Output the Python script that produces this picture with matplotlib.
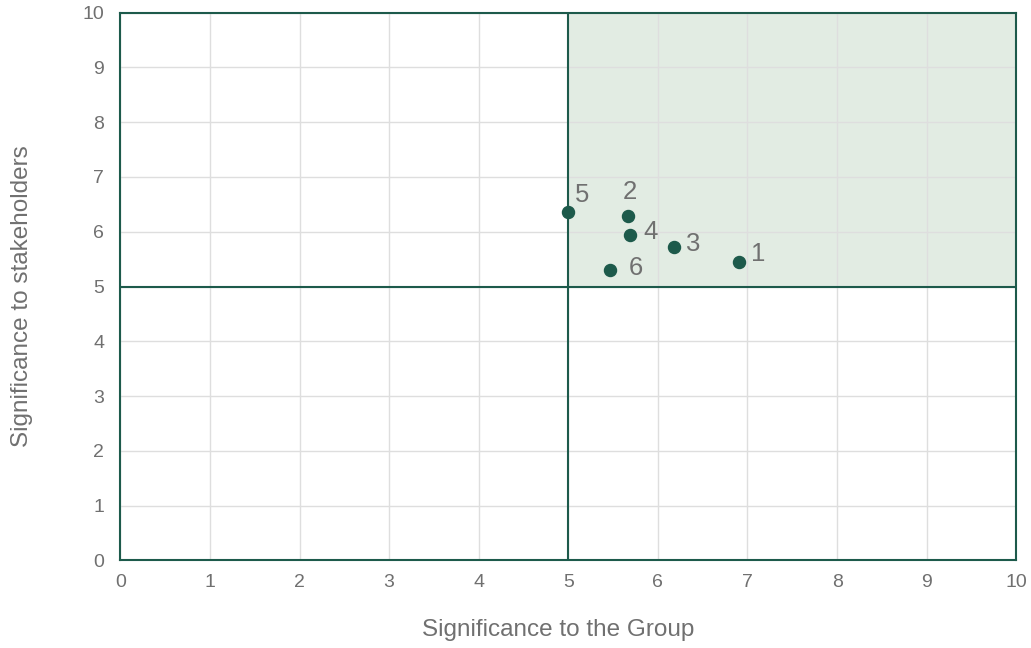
import numpy as np
import matplotlib.pyplot as plt
from matplotlib.patches import Rectangle

# topic numbers and their scores
topics = ["1", "2", "3", "4", "5", "6"]
group_score = [6.90, 5.67, 6.18, 5.69, 5.00, 5.46]
stakeholder_score = [5.44, 6.29, 5.72, 5.94, 6.36, 5.31]
# label offsets in pixels (dx, dy)
label_offset = [(12, 8), (-6, 24), (12, 3), (13, 3), (7, 17), (19, 2)]

dark = "#1d5a4b"
shade = "#e2ece3"
tick_col = "#707070"

plt.rcParams['font.family'] = ['Liberation Sans', 'DejaVu Sans']

fig = plt.figure(figsize=(10.31, 6.48), dpi=100)
ax = fig.add_axes([0.1167, 0.1353, 0.869, 0.8451])

ax.set_xlim(0, 10)
ax.set_ylim(0, 10)
ax.set_xticks(range(11))
ax.set_yticks(range(11))
ax.grid(True, color="#dedede", linewidth=1)
ax.set_axisbelow(True)

# upper right quadrant
ax.add_patch(Rectangle((5, 5), 5, 5, facecolor=shade, edgecolor="none", zorder=0.5))
ax.axvline(5, color=dark, linewidth=1.5, zorder=1)
ax.axhline(5, color=dark, linewidth=1.5, zorder=1)

for s in ax.spines.values():
    s.set_color(dark)
    s.set_linewidth(1.5)

ax.scatter(group_score, stakeholder_score, s=75, color=dark, zorder=3, clip_on=False)
for t, x, y, (dx, dy) in zip(topics, group_score, stakeholder_score, label_offset):
    ax.annotate(t, (x, y), xytext=(dx * 0.72, dy * 0.72), textcoords="offset points",
                ha="left", va="center", fontsize=18.5, color=tick_col)

ax.tick_params(length=0, labelsize=14, colors=tick_col)
ax.tick_params(axis="x", pad=10)
ax.tick_params(axis="y", pad=11.5)
ax.set_xlabel("Significance to the Group", fontsize=17.5, color=tick_col, labelpad=20)
ax.set_ylabel("Significance to stakeholders", fontsize=17.5, color=tick_col, labelpad=35.5)
ax.xaxis.label.set_x(0.4885)
ax.yaxis.label.set_y(0.483)

fig.savefig("out.png", dpi=100)
